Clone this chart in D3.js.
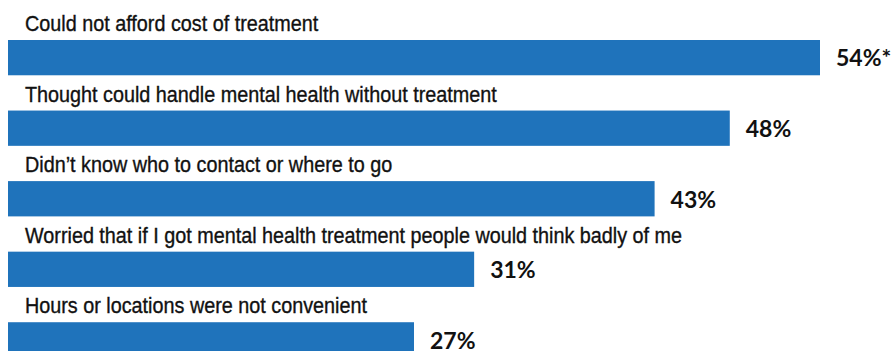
<!DOCTYPE html>
<html><head><meta charset="utf-8">
<script src="https://cdn.jsdelivr.net/npm/d3@7"></script>
<style>body{margin:0;background:#fff}</style>
</head><body>
<svg id="c" width="894" height="351"></svg>
<script>
const categories = [
  "Could not afford cost of treatment",
  "Thought could handle mental health without treatment",
  "Didn\u2019t know who to contact or where to go",
  "Worried that if I got mental health treatment people would think badly of me",
  "Hours or locations were not convenient"
];
const values = [54, 48, 43, 31, 27];
const valueLabels = ["54%*", "48%", "43%", "31%", "27%"];

const svg = d3.select("#c");
const x = d3.scaleLinear().domain([0, 54]).range([8, 820]);
const y = d3.scaleBand().domain(categories).range([40, 357.5]).paddingInner(0.5).paddingOuter(0);

const g = svg.selectAll("g.row").data(categories).join("g").attr("class","row");
g.append("rect")
  .attr("x", x(0))
  .attr("y", d => y(d))
  .attr("width", (d,i) => x(values[i]) - x(0))
  .attr("height", y.bandwidth())
  .attr("fill", "#1f73bb");
g.append("text")
  .attr("transform", d => `translate(25,${y(d) - 9}) scale(0.9,1)`)
  .attr("font-family", "'Liberation Sans', Arial, sans-serif")
  .attr("font-size", 22)
  .attr("fill", "#111")
  .attr("stroke", "#111")
  .attr("stroke-width", 0.35)
  .text(d => d);
g.append("text")
  .attr("x", (d,i) => x(values[i]) + 16)
  .attr("y", d => y(d) + y.bandwidth()*0.75)
  .attr("font-family", "Lato, sans-serif")
  .attr("font-weight", "bold")
  .attr("font-size", 23)
  .attr("fill", "#111")
  .text((d,i) => valueLabels[i]);
</script>
</body></html>
